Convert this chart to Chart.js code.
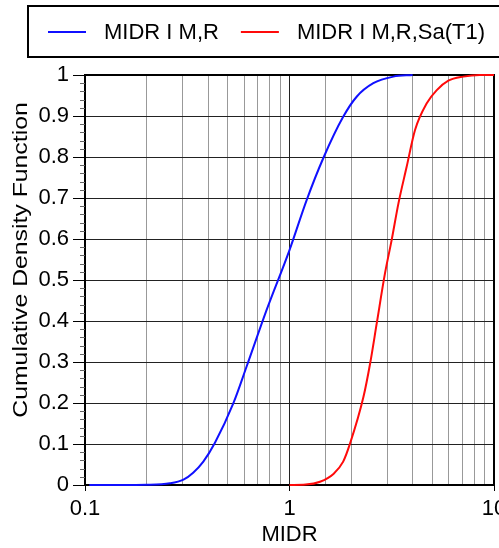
<!DOCTYPE html>
<html>
<head>
<meta charset="utf-8">
<script src="https://cdn.jsdelivr.net/npm/chart.js@4.4.1/dist/chart.umd.min.js"></script>
<style>
  html, body { margin: 0; padding: 0; overflow: hidden; background: #fff; }
  #wrap { position: relative; width: 530px; height: 548px; }
</style>
</head>
<body>
<div id="wrap"><canvas id="cdf"></canvas></div>
<script>
// MIDR values (log x axis, 0.1 .. 10)
const midrGivenMR = [0.105, 0.15, 0.2, 0.26, 0.303, 0.338, 0.379, 0.432, 0.531, 0.617, 0.773, 1.0, 1.213, 1.462, 1.83, 2.13, 2.57, 3.22, 4.0];
const cdfGivenMR  = [0, 0, 0.0005, 0.004, 0.013, 0.03, 0.057, 0.103, 0.199, 0.289, 0.427, 0.573, 0.695, 0.797, 0.898, 0.947, 0.980, 0.996, 1.0];

const midrGivenSa = [1.0, 1.2, 1.41, 1.64, 1.83, 1.98, 2.30, 2.48, 2.67, 2.93, 3.16, 3.41, 3.74, 4.11, 4.69, 5.25, 5.98, 7.08, 8.5, 10];
const cdfGivenSa  = [0, 0.001, 0.008, 0.027, 0.057, 0.102, 0.215, 0.297, 0.394, 0.516, 0.598, 0.687, 0.776, 0.866, 0.931, 0.963, 0.986, 0.996, 1.0, 1.0];

const seriesLabels = ['MIDR I M,R', 'MIDR I M,R,Sa(T1)'];
const seriesColors = ['#1010ff', '#ff0a0a'];
const xTitle = 'MIDR';
const yTitle = 'Cumulative Density Function';

const FONT = '"Liberation Sans", Arial, Helvetica, sans-serif';

function toPoints(xs, ys) {
    return xs.map((x, i) => ({ x: x, y: ys[i] }));
}

function isDecade(v) {
    const l = Math.log10(v);
    return Math.abs(l - Math.round(l)) < 1e-9;
}

// Box around the plot area, drawn under the curves
const framePlugin = {
    id: 'frame',
    beforeDatasetsDraw(chart) {
        const a = chart.chartArea, ctx = chart.ctx;
        ctx.save();
        ctx.strokeStyle = '#000';
        ctx.lineWidth = 2;
        ctx.strokeRect(a.left, a.top, a.right - a.left, a.bottom - a.top);
        ctx.restore();
    }
};

// Short minor ticks on the y axis every 0.02, plus the stretched y title
const yAxisExtras = {
    id: 'yAxisExtras',
    afterDraw(chart) {
        const y = chart.scales.y, ctx = chart.ctx;
        ctx.save();
        ctx.strokeStyle = '#666';
        ctx.lineWidth = 1;
        for (let i = 0; i <= 50; i++) {
            if (i % 5 === 0) continue;
            const py = Math.round(y.getPixelForValue(i / 50)) + 0.5;
            ctx.beginPath();
            ctx.moveTo(y.right - 5, py);
            ctx.lineTo(y.right, py);
            ctx.stroke();
        }
        ctx.restore();

        ctx.save();
        ctx.translate(21, 260);
        ctx.rotate(-Math.PI / 2);
        ctx.scale(1.18, 1);
        ctx.font = '21px ' + FONT;
        ctx.fillStyle = '#000';
        ctx.textAlign = 'center';
        ctx.textBaseline = 'middle';
        ctx.fillText(yTitle, 0, 0);
        ctx.restore();
    }
};

// Legend in a framed box at the top, built from the dataset labels
const boxLegendPlugin = {
    id: 'boxLegend',
    afterDraw(chart) {
        const ctx = chart.ctx;
        ctx.save();
        ctx.strokeStyle = '#000';
        ctx.lineWidth = 2;
        ctx.strokeRect(28, 6, 520, 51);
        ctx.font = '22px ' + FONT;
        ctx.textBaseline = 'middle';
        ctx.fillStyle = '#000';
        let x = 48;
        const yMid = 32;
        chart.data.datasets.forEach(ds => {
            ctx.strokeStyle = ds.borderColor;
            ctx.lineWidth = 2;
            ctx.beginPath();
            ctx.moveTo(x, yMid);
            ctx.lineTo(x + 38, yMid);
            ctx.stroke();
            x += 56;
            ctx.fillText(ds.label, x, yMid + 1);
            x += ctx.measureText(ds.label).width + 22;
        });
        ctx.restore();
    }
};

const datasets = [
    { xs: midrGivenMR, ys: cdfGivenMR },
    { xs: midrGivenSa, ys: cdfGivenSa }
].map((s, i) => ({
    label: seriesLabels[i],
    data: toPoints(s.xs, s.ys),
    borderColor: seriesColors[i],
    backgroundColor: seriesColors[i],
    borderWidth: 2,
    pointRadius: 0,
    cubicInterpolationMode: 'monotone',
    clip: 4,
    fill: false
}));

new Chart(document.getElementById('cdf'), {
    type: 'line',
    data: { datasets: datasets },
    options: {
        responsive: true,
        maintainAspectRatio: false,
        animation: false,
        events: [],
        layout: { padding: { top: 75, right: 36, left: 0, bottom: 0 } },
        plugins: {
            legend: { display: false },
            tooltip: { enabled: false }
        },
        scales: {
            x: {
                type: 'logarithmic',
                min: 0.1,
                max: 10,
                afterFit(scale) { scale.height = 63; },
                border: { display: true, color: '#000', width: 2 },
                grid: {
                    color: ctx => (ctx.tick && isDecade(ctx.tick.value)) ? '#222' : '#999',
                    tickColor: ctx => (ctx.tick && isDecade(ctx.tick.value)) ? '#000' : 'rgba(0,0,0,0)',
                    tickLength: 6,
                    lineWidth: 1
                },
                ticks: {
                    autoSkip: false,
                    maxRotation: 0,
                    padding: 5,
                    color: '#000',
                    font: { family: FONT, size: 22 },
                    callback: v => isDecade(v) ? String(Number(v.toPrecision(3))) : ''
                },
                title: {
                    display: true,
                    text: xTitle,
                    color: '#000',
                    font: { family: FONT, size: 22 },
                    padding: 0
                }
            },
            y: {
                min: 0,
                max: 1,
                afterFit(scale) { scale.width = 85; },
                border: { display: true, color: '#000', width: 2 },
                grid: {
                    color: '#222',
                    tickColor: '#000',
                    tickLength: 12,
                    lineWidth: 1
                },
                ticks: {
                    stepSize: 0.1,
                    padding: 4,
                    color: '#000',
                    font: { family: FONT, size: 22 },
                    callback: v => String(Number(v.toFixed(1)))
                },
                title: { display: false }
            }
        }
    },
    plugins: [framePlugin, yAxisExtras, boxLegendPlugin]
});
</script>
</body>
</html>
